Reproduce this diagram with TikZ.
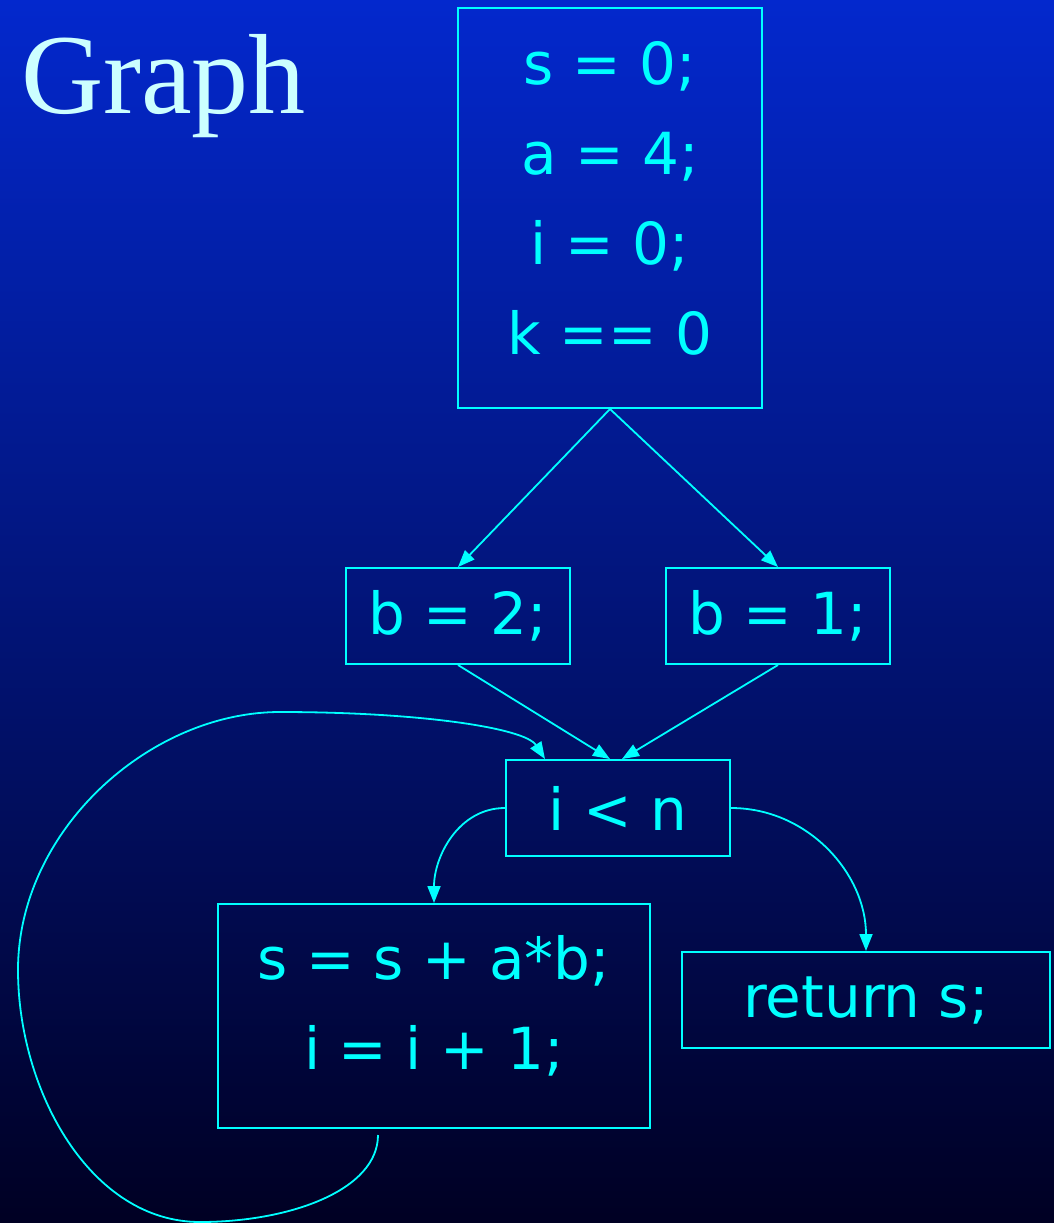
\documentclass[tikz,border=0pt]{standalone}
\usepackage{fontspec}
\setmainfont{DejaVu Sans}
\newfontfamily\titlefont{Liberation Serif}
\usepackage{xcolor}
\usetikzlibrary{arrows.meta}
\definecolor{bgtop}{RGB}{3,40,205}
\definecolor{bgbot}{RGB}{0,0,35}
\definecolor{codecyan}{RGB}{0,255,255}
\definecolor{titlecyan}{RGB}{204,255,255}

\begin{document}
\begin{tikzpicture}[x=0.5pt,y=-0.5pt, blk/.style={draw=codecyan,line width=1pt,text=codecyan,
  align=center,inner sep=0pt,font=\fontsize{29}{45}\selectfont},
  >={Triangle[length=8.5pt,width=6.5pt]}, flow/.style={->,draw=codecyan,line width=0.9pt}]
\shade[top color=bgtop,bottom color=bgbot] (0,0) rectangle (1054,1223);
\useasboundingbox (0,0) rectangle (1054,1223);
\node[anchor=base west,text=titlecyan,font=\titlefont\fontsize{57}{57}\selectfont] (title) at (14,113) {Graph};
\node[blk,minimum width=152pt,minimum height=200pt] (entry) at (610,208) {s = 0;\\a = 4;\\i = 0;\\k == 0\rule[-10pt]{0pt}{10pt}};
\node[blk,minimum width=112pt,minimum height=48pt] (btwo) at (458,616) {b = 2;};
\node[blk,minimum width=112pt,minimum height=48pt] (bone) at (778,616) {b = 1;};
\node[blk,minimum width=112pt,minimum height=48pt] (cond) at (618,808) {i < n};
\node[blk,minimum width=216pt,minimum height=112pt] (body) at (434,1016) {s = s + a*b;\\i = i + 1;\rule[-14pt]{0pt}{14pt}};
\node[blk,minimum width=184pt,minimum height=48pt] (ret) at (866,1000) {return s;};
\coordinate (loopstart) at (378,1135);
\draw[flow] (entry.south) -- (btwo.north);
\draw[flow] (entry.south) -- (bone.north);
\draw[flow] (btwo.south) -- ([xshift=-4pt]cond.north);
\draw[flow] (bone.south) -- ([xshift=2pt]cond.north);
\draw[flow] (cond.west) to[out=180,in=90] (body.north);
\draw[flow] (cond.east) to[out=0,in=90] (ret.north);
\draw[flow] (loopstart) .. controls (378,1190) and (290,1222) .. (200,1222)
  .. controls (90,1222) and (18,1090) .. (18,970)
  .. controls (18,830) and (150,712) .. (280,712)
  .. controls (420,712) and (525,728) .. ([xshift=-36.5pt]cond.north);
\end{tikzpicture}
\end{document}
